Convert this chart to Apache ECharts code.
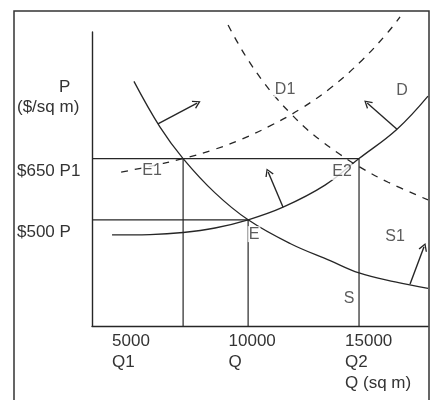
<!DOCTYPE html>
<html>
<head>
<meta charset="utf-8">
<script src="https://cdn.jsdelivr.net/npm/echarts@6/dist/echarts.min.js"></script>
<style>html,body{margin:0;padding:0;background:#fff}#c{width:431px;height:400px}</style>
</head>
<body>
<div id="c"></div>
<script>
// ---- data ----
const xTickValues = [5000, 10000, 15000];
const xTickLabels = ['5000\nQ1', '10000\nQ', '15000\nQ2\nQ (sq m)'];
const yTickValues = [500, 650, 850];
const yTickLabels = ['$500 P', '$650 P1', 'P\n($/sq m)'];

// equilibrium points E1, E, E2
const eqX = [8050, 10840, 15600];
const eqY = [650, 500, 650];

// solid downward-sloping curve
const downX = [5940, 7060, 8050, 9420, 10840, 12640, 14360, 15600, 17150, 18560];
const downY = [839, 727, 650, 566, 500, 442, 400, 370, 348, 332];
// solid upward-sloping curve
const upX = [5000, 6630, 8050, 9420, 10840, 12340, 14140, 15600, 17230, 18560];
const upY = [463, 464, 469, 480, 500, 531, 585, 650, 722, 803];
// dashed upward-sloping curve
const dashUpX = [5390, 6630, 8050, 9420, 10580, 11780, 13070, 14360, 15730, 16850, 17360];
const dashUpY = [617, 631, 650, 673, 698, 730, 771, 822, 891, 960, 997];
// dashed downward-sloping curve
const dashDownX = [9980, 10410, 10880, 11440, 12040, 12640, 13280, 14010, 14790, 15640, 16850, 18560];
const dashDownY = [977, 932, 888, 842, 799, 762, 726, 692, 660, 629, 592, 549];

// shift arrows
const arrowStartX = [6970, 12340, 17230, 17790];
const arrowStartY = [735, 531, 722, 343];
const arrowEndX = [8650, 11700, 15950, 18390];
const arrowEndY = [786, 617, 786, 434];

// point labels
const pointNames = ['D1', 'D', 'E1', 'E2', 'E', 'S', 'S1'];
const pointX = [12425, 17447, 6717, 14872, 11095, 15172, 17146];
const pointY = [820, 816, 620, 617, 465, 306, 458];

const xMin = 4140, xMax = 18560, yMin = 240, yMax = 960;

// ---- build ----
const ink = '#262626';
const txt = '#333';
const font = '"Liberation Sans", Arial, sans-serif';
const zip = (xs, ys) => xs.map((x, i) => [x, ys[i]]);

const series = [];
function curve(xs, ys, dashed) {
  series.push({
    type: 'line', data: zip(xs, ys), smooth: 0.4,
    symbol: 'none', clip: false, silent: true,
    lineStyle: { color: ink, width: 1.3, type: dashed ? [7, 7] : 'solid' }
  });
}
curve(downX, downY, false);
curve(upX, upY, false);
curve(dashUpX, dashUpY, true);
curve(dashDownX, dashDownY, true);

// guide lines: horizontals to furthest eq at each price, verticals down to axis
const prices = [...new Set(eqY)];
prices.forEach(p => {
  const xs = eqX.filter((x, i) => eqY[i] === p);
  series.push({ type: 'line', data: [[xMin, p], [Math.max(...xs), p]], symbol: 'none', silent: true,
    lineStyle: { color: ink, width: 1.2 } });
});
eqX.forEach((x, i) => {
  series.push({ type: 'line', data: [[x, eqY[i]], [x, yMin]], symbol: 'none', silent: true,
    lineStyle: { color: ink, width: 1.2 } });
});

// arrows (open V heads)
const openHead = 'path://M0,10 L5,0 L10,10 L8.6,10.6 L5,3.2 L1.4,10.6 Z';
series.push({
  type: 'line', data: [], symbol: 'none',
  markLine: {
    silent: true, symbol: ['none', openHead], symbolSize: [9, 8],
    label: { show: false },
    lineStyle: { color: ink, width: 1.4, type: 'solid' },
    itemStyle: { color: ink },
    data: arrowStartX.map((x, i) => [{ coord: [x, arrowStartY[i]] }, { coord: [arrowEndX[i], arrowEndY[i]] }])
  }
});

// labels
series.push({
  type: 'scatter', z: 10, symbolSize: 1, silent: true,
  itemStyle: { color: 'rgba(0,0,0,0)' },
  data: pointNames.map((n, i) => ({ name: n, value: [pointX[i], pointY[i]] })),
  label: { show: true, position: 'inside', formatter: p => p.name, color: txt,
    fontSize: 16, fontFamily: font, backgroundColor: '#fff', padding: [0, 1] }
});

const chart = echarts.init(document.getElementById('c'), null, { renderer: 'canvas' });
chart.setOption({
  animation: false,
  backgroundColor: '#fff',
  grid: { left: 92, right: 3, top: 32, bottom: 74 },
  xAxis: {
    type: 'value', min: xMin, max: xMax,
    axisLine: { show: true, onZero: false, lineStyle: { color: ink, width: 1.4 } },
    axisTick: { show: false }, splitLine: { show: false },
    axisLabel: {
      customValues: xTickValues,
      formatter: v => xTickLabels[xTickValues.indexOf(v)] || '',
      align: 'left', verticalAlign: 'top', margin: 5, lineHeight: 21,
      color: txt, fontSize: 17, fontFamily: font
    }
  },
  yAxis: {
    type: 'value', min: yMin, max: yMax,
    axisLine: { show: true, onZero: false, lineStyle: { color: ink, width: 1.4 } },
    axisTick: { show: false }, splitLine: { show: false },
    axisLabel: {
      customValues: yTickValues,
      formatter: v => {
        const t = yTickLabels[yTickValues.indexOf(v)] || '';
        const lines = t.split('\n');
        if (lines.length === 1) return '{a|' + t + '}';
        return '{p|' + lines[0] + '}\n' + lines.slice(1).map(l => '{u|' + l + '}').join('\n');
      },
      align: 'left', verticalAlign: 'top', margin: 75,
      color: txt, fontSize: 17, fontFamily: font,
      rich: {
        a: { fontSize: 17, lineHeight: 25, color: txt, fontFamily: font },
        p: { fontSize: 17, lineHeight: 20, color: txt, fontFamily: font, padding: [0, 0, 0, 42] },
        u: { fontSize: 17, lineHeight: 20, color: txt, fontFamily: font }
      }
    }
  },
  graphic: [{
    type: 'rect', silent: true, z: 100,
    shape: { x: 14, y: 11, width: 415, height: 395 },
    style: { fill: 'none', stroke: '#333', lineWidth: 1.5 }
  }],
  series: series
});
</script>
</body>
</html>
